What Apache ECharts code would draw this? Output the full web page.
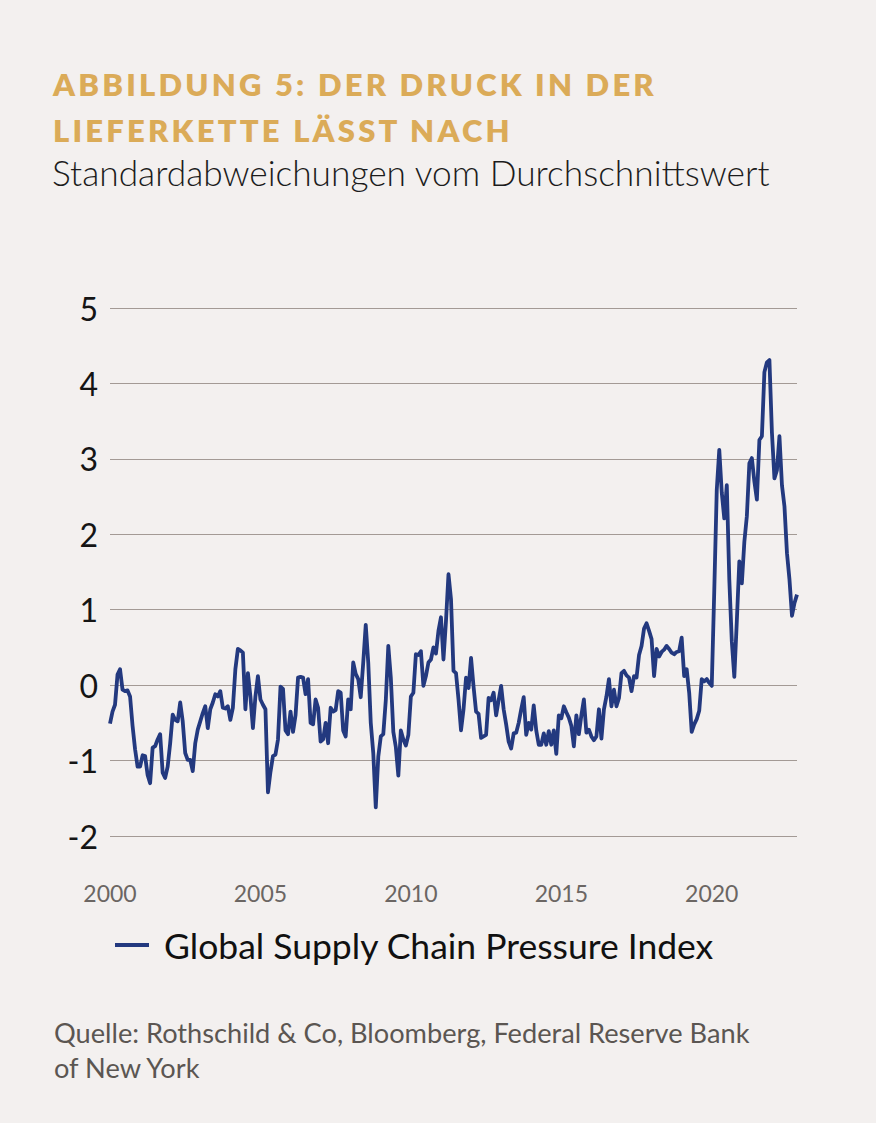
<!DOCTYPE html>
<html>
<head>
<meta charset="utf-8">
<script src="https://cdn.jsdelivr.net/npm/echarts@6/dist/echarts.min.js"></script>
<style>
html,body{margin:0;padding:0;background:#f3f0ef;}
#chart{width:876px;height:1123px;}
</style>
</head>
<body>
<div id="chart"></div>
<script>
// Global Supply Chain Pressure Index, monthly, Jan 2000 - Nov 2022
var startYear = 2000;
var seriesName = 'Global Supply Chain Pressure Index';
var gscpi = [
  -0.51,-0.35,-0.26,0.14,0.21,-0.06,-0.08,-0.07,-0.15,-0.54,-0.85,-1.08,
  -1.08,-0.93,-0.94,-1.19,-1.30,-0.83,-0.81,-0.72,-0.65,-1.16,-1.23,-1.08,
  -0.77,-0.39,-0.46,-0.48,-0.23,-0.48,-0.90,-0.99,-0.99,-1.14,-0.77,-0.59,
  -0.48,-0.37,-0.28,-0.57,-0.32,-0.23,-0.12,-0.15,-0.08,-0.30,-0.31,-0.28,
  -0.46,-0.30,0.21,0.48,0.46,0.43,-0.32,0.16,-0.15,-0.57,-0.15,0.12,
  -0.19,-0.26,-0.32,-1.42,-1.15,-0.94,-0.92,-0.72,-0.02,-0.05,-0.60,-0.65,
  -0.35,-0.62,-0.40,0.10,0.11,0.10,-0.12,0.08,-0.50,-0.52,-0.19,-0.30,
  -0.75,-0.72,-0.50,-0.77,-0.30,-0.35,-0.33,-0.08,-0.10,-0.60,-0.68,-0.19,
  -0.32,0.30,0.15,0.08,-0.16,0.30,0.80,0.30,-0.50,-0.90,-1.62,-0.95,
  -0.68,-0.65,-0.20,0.52,0.10,-0.62,-0.82,-1.20,-0.60,-0.72,-0.80,-0.66,
  -0.15,-0.10,0.41,0.40,0.45,-0.01,0.12,0.30,0.34,0.50,0.42,0.72,
  0.90,0.34,0.85,1.47,1.14,0.19,0.16,-0.19,-0.60,-0.32,0.10,-0.04,
  0.36,-0.02,-0.35,-0.38,-0.70,-0.68,-0.66,-0.17,-0.20,-0.10,-0.40,-0.20,
  -0.01,-0.32,-0.52,-0.75,-0.84,-0.64,-0.63,-0.50,-0.32,-0.16,-0.66,-0.50,
  -0.59,-0.27,-0.60,-0.79,-0.79,-0.64,-0.79,-0.61,-0.79,-0.60,-0.91,-0.40,
  -0.44,-0.28,-0.36,-0.43,-0.54,-0.81,-0.40,-0.65,-0.40,-0.19,-0.63,-0.59,
  -0.68,-0.73,-0.68,-0.32,-0.71,-0.32,-0.15,0.08,-0.28,-0.06,-0.28,-0.17,
  0.16,0.19,0.13,0.10,-0.08,0.12,0.10,0.40,0.52,0.75,0.82,0.72,
  0.61,0.12,0.48,0.38,0.44,0.47,0.52,0.48,0.43,0.41,0.44,0.45,
  0.63,0.12,0.21,-0.10,-0.62,-0.52,-0.45,-0.34,0.08,0.05,0.08,0.03,
  -0.01,1.25,2.59,3.12,2.55,2.21,2.65,1.40,0.58,0.11,0.85,1.64,
  1.35,1.90,2.24,2.94,3.01,2.70,2.46,3.25,3.30,4.15,4.28,4.31,
  3.35,2.74,2.85,3.30,2.65,2.37,1.75,1.40,0.92,1.09,1.20
];
var yTicks = { min: -2, max: 5, interval: 1 };
var labelYears = [2000, 2005, 2010, 2015, 2020];

var months = gscpi.map(function (v, i) {
  var y = startYear + Math.floor(i / 12);
  var m = (i % 12) + 1;
  return y + '-' + (m < 10 ? '0' + m : m);
});

var FONT = 'Lato';
var chart = echarts.init(document.getElementById('chart'), null, { renderer: 'svg' });
chart.setOption({
  backgroundColor: '#f3f0ef',
  animation: false,
  title: [
    {
      text: 'ABBILDUNG 5: DER DRUCK IN DER\nLIEFERKETTE LÄSST NACH',
      left: 48, top: 56,
      textStyle: { fontFamily: FONT, fontWeight: 800, fontSize: 31, lineHeight: 46, color: '#dbab58' }
    },
    {
      text: 'Standardabweichungen vom Durchschnittswert',
      left: 47, top: 150,
      textStyle: { fontFamily: FONT, fontWeight: 300, fontSize: 35.3, color: '#1c1c1c' }
    },
    {
      text: 'Quelle: Rothschild & Co, Bloomberg, Federal Reserve Bank\nof New York',
      left: 49, top: 1010,
      textStyle: { fontFamily: FONT, fontWeight: 400, fontSize: 27.2, lineHeight: 35, color: '#5b5652' }
    }
  ],
  legend: {
    left: 110, top: 922,
    icon: 'rect', itemWidth: 34, itemHeight: 4,
    textStyle: { fontFamily: FONT, fontSize: 35.5, color: '#111', padding: [0, 0, 0, 10] },
    data: [seriesName]
  },
  grid: { left: 110, right: 79, top: 308, bottom: 287, containLabel: false },
  xAxis: {
    type: 'category',
    data: months,
    boundaryGap: false,
    axisLine: { show: false },
    axisTick: { show: false },
    splitLine: { show: false },
    axisLabel: {
      interval: function (idx, val) {
        var y = parseInt(val.slice(0, 4), 10);
        return val.slice(5) === '01' && labelYears.indexOf(y) >= 0;
      },
      formatter: function (val) { return val.slice(0, 4); },
      margin: 45,
      fontFamily: FONT, fontSize: 23, color: '#6b6663'
    }
  },
  yAxis: {
    type: 'value',
    min: yTicks.min, max: yTicks.max, interval: yTicks.interval,
    axisLine: { show: false },
    axisTick: { show: false },
    splitLine: { lineStyle: { color: '#a39a95', width: 1 } },
    axisLabel: { fontFamily: FONT, fontSize: 32, color: '#151515', margin: 12 }
  },
  series: [{
    name: seriesName,
    type: 'line',
    data: gscpi,
    symbol: 'none',
    smooth: false,
    lineStyle: { color: '#23397f', width: 3.8, join: 'round' },
    itemStyle: { color: '#23397f' }
  }]
});
// spaced capitals for the headline, as in the original
Array.prototype.forEach.call(document.querySelectorAll('#chart text, #chart tspan'), function (t) {
  var s = t.textContent || '';
  if (s.indexOf('ABBILDUNG') >= 0 || s.indexOf('LIEFERKETTE') >= 0) {
    t.style.letterSpacing = '3.2px';
  }
});
</script>
</body>
</html>
